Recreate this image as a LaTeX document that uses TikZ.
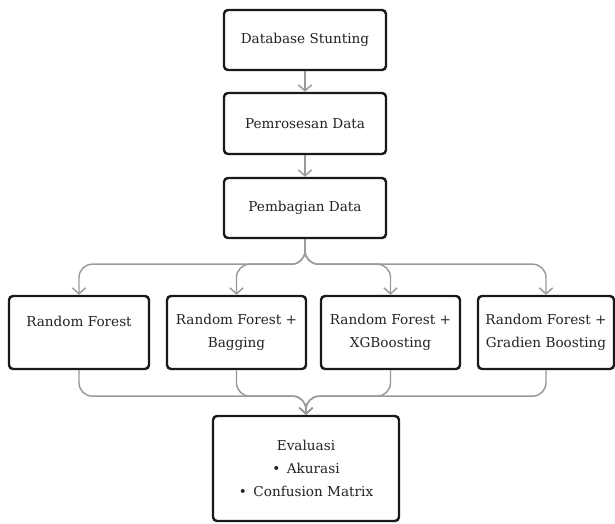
\documentclass[tikz,border=0pt]{standalone}
\usepackage{fontspec}
\setmainfont{DejaVu Serif}
\usetikzlibrary{arrows.meta}
\definecolor{conn}{HTML}{9A9A9A}
\definecolor{txt}{HTML}{222222}
\tikzset{
  box/.style={draw=black!90, line width=1.8pt, rounded corners=3pt, fill=white,
    text=txt, align=center, inner sep=0pt,
    font=\fontsize{10.2}{17}\selectfont},
  conn/.style={draw=conn, line width=1.1pt,
    -{Straight Barb[length=4.5pt,width=10pt,line width=1.1pt]}},
}
\begin{document}
\begin{tikzpicture}[x=0.75pt,y=-0.75pt]
\useasboundingbox (0,0) rectangle (615,524);
\node[box, minimum width=162*0.75pt, minimum height=60*0.75pt] (b1) at (305,40) {Database Stunting};
\node[box, minimum width=162*0.75pt, minimum height=61*0.75pt] (b2) at (305,123.5) {Pemrosesan Data};
\node[box, minimum width=162*0.75pt, minimum height=60*0.75pt] (b3) at (305,208) {Pembagian Data};

\node[box, minimum width=140*0.75pt, minimum height=73*0.75pt] (ra) at (79,332.5) {Random Forest\\\mbox{}};
\node[box, minimum width=139*0.75pt, minimum height=73*0.75pt] (rb) at (236.5,332.5) {Random Forest +\\Bagging};
\node[box, minimum width=139*0.75pt, minimum height=73*0.75pt] (rc) at (390.5,332.5) {Random Forest +\\XGBoosting};
\node[box, minimum width=136*0.75pt, minimum height=73*0.75pt] (rd) at (546,332.5) {Random Forest +\\Gradien Boosting};

\node[box, minimum width=186*0.75pt, minimum height=105*0.75pt] (ev) at (306,468.5) {Evaluasi\\• \,Akurasi\\• \,Confusion Matrix};

\draw[conn] (b1.south) -- (b2.north);
\draw[conn] (b2.south) -- (b3.north);

\foreach \t in {ra,rb,rc,rd}{
  \draw[conn, rounded corners=10pt] (b3.south) -- ([yshift=-18.75pt]b3.south) -| (\t.north);
  \draw[conn, rounded corners=10pt] (\t.south) |- ([yshift=14pt]ev.north) -- (ev.north);
}
\end{tikzpicture}
\end{document}
